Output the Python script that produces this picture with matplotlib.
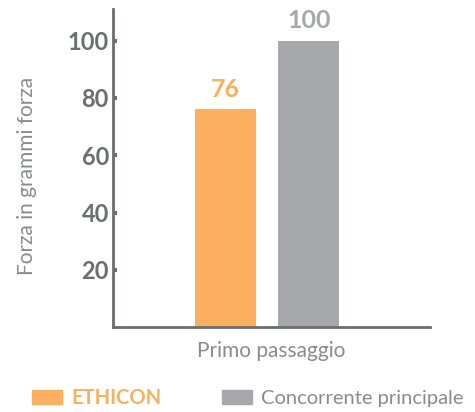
import matplotlib.pyplot as plt
from matplotlib.patches import Patch

# data
groups = ['ETHICON', 'Concorrente principale']
values = [76, 100]
colors = ['#FBAF5F', '#A7A8AB']
yticks = [20, 40, 60, 80, 100]
category = 'Primo passaggio'

axis_col = '#6D6E71'
text_col = '#8A8B8E'
plt.rcParams['font.family'] = ['Lato', 'DejaVu Sans']

fig = plt.figure(figsize=(4.75, 4.12), dpi=100)
ax = fig.add_axes([0.238, 0.206, 0.667, 0.772])

bars = ax.bar(range(len(values)), values, width=0.73, color=colors)
for i, (b, v) in enumerate(zip(bars, values)):
    ax.text(b.get_x() + b.get_width() / 2, v + 3, str(v), ha='center', va='bottom',
            fontsize=18, fontweight='bold', color=colors[i])

ax.set_xlim(-1.347, 2.449)
ax.set_ylim(0, 111)
ax.set_yticks(yticks)
ax.set_xticks([])
ax.set_xlabel(category, fontsize=15, color=text_col, labelpad=10)
ax.set_ylabel('Forza in grammi forza', fontsize=15, color=text_col)
ax.yaxis.set_label_coords(-0.24, 0.475)

for s in ['top', 'right']:
    ax.spines[s].set_visible(False)
for s in ['left', 'bottom']:
    ax.spines[s].set_color(axis_col)
    ax.spines[s].set_linewidth(2)
ax.tick_params(axis='y', direction='in', length=3, width=3, color=axis_col,
               labelsize=17, labelcolor=axis_col, pad=3)
for lbl in ax.get_yticklabels():
    lbl.set_fontweight('bold')

handles = [Patch(color=c) for c in colors]
leg = fig.legend(handles, groups, loc='center left', bbox_to_anchor=(0.067, 0.034), ncol=2,
                 frameon=False, fontsize=14.5, handlelength=1.5, handleheight=0.75,
                 columnspacing=3.0, handletextpad=0.45, borderpad=0, borderaxespad=0)
for t in leg.get_texts():
    t.set_color(text_col)
leg.get_texts()[0].set_fontweight('bold')
leg.get_texts()[0].set_color(colors[0])

fig.savefig('out.png', dpi=100)
